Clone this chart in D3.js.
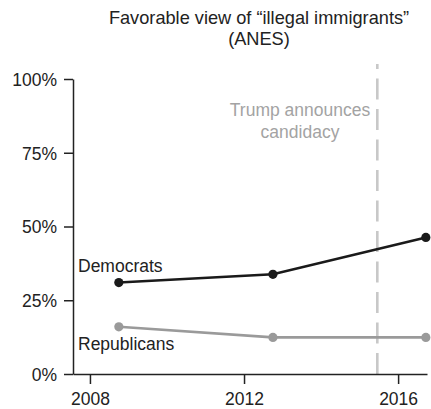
<!DOCTYPE html>
<html>
<head>
<meta charset="utf-8">
<script src="https://cdn.jsdelivr.net/npm/d3@7"></script>
<style>
  html, body { margin: 0; padding: 0; background: #fff; }
  svg { display: block; font-family: "Liberation Sans", Arial, Helvetica, sans-serif; }
</style>
</head>
<body>
<svg id="chart" width="431" height="409"></svg>
<script>
// Survey years (ANES fielded in the fall of each election year)
const surveyYears = [2008.75, 2012.75, 2016.72];
const democrats = [0.31, 0.338, 0.463];
const republicans = [0.16, 0.124, 0.124];
const yTicks = [0, 0.25, 0.5, 0.75, 1];
const xTicks = [2008, 2012, 2016];
const announceYear = 2015.46;
const titleLines = ["Favorable view of \u201cillegal immigrants\u201d", "(ANES)"];
const noteLines = ["Trump announces", "candidacy"];

const svg = d3.select("#chart");
const fontSize = 17.5;

const x = d3.scaleLinear().domain([2007.56, 2016.75]).range([73, 427]);
const y = d3.scaleLinear().domain([0, 1]).range([374, 79]);

// Title
svg.append("text")
  .attr("text-anchor", "middle")
  .attr("font-size", 18.2).attr("fill", "#222")
  .selectAll("tspan").data(titleLines).join("tspan")
  .attr("x", 259).attr("y", (d, i) => 24 + i * 21)
  .text(d => d);

// Candidacy marker
svg.append("line")
  .attr("x1", x(announceYear)).attr("x2", x(announceYear))
  .attr("y1", y(0)).attr("y2", 64)
  .attr("stroke", "#c8c8c8").attr("stroke-width", 2.6)
  .attr("stroke-dasharray", "21,9.5");

svg.append("text")
  .attr("text-anchor", "middle")
  .attr("font-size", fontSize).attr("fill", "#a3a3a3")
  .selectAll("tspan").data(noteLines).join("tspan")
  .attr("x", 300).attr("y", (d, i) => 116 + i * 22)
  .text(d => d);

// Axes
const yAxis = svg.append("g")
  .attr("transform", `translate(${x.range()[0]},0)`)
  .call(d3.axisLeft(y).tickValues(yTicks).tickFormat(d3.format(".0%")).tickSize(9).tickSizeOuter(0).tickPadding(7));
const xAxis = svg.append("g")
  .attr("transform", `translate(0,${y(0)})`)
  .call(d3.axisBottom(x).tickValues(xTicks).tickFormat(d3.format("d")).tickSize(10).tickSizeOuter(0).tickPadding(8));

[yAxis, xAxis].forEach(g => {
  g.select(".domain").attr("stroke", "#222").attr("stroke-width", 1.5);
  g.selectAll(".tick line").attr("stroke", "#222").attr("stroke-width", 1.5);
  g.selectAll(".tick text")
    .attr("font-size", fontSize).attr("fill", "#222")
    .attr("font-family", "Liberation Sans, Arial, Helvetica, sans-serif");
});
yAxis.selectAll(".tick text").attr("dy", "0.36em");
xAxis.selectAll(".tick text").attr("dy", "0.74em");

// Series
const series = [
  { name: "Democrats", values: democrats, color: "#1a1a1a", labelY: 272 },
  { name: "Republicans", values: republicans, color: "#9a9a9a", labelY: 350 }
];

const line = d3.line()
  .x((d, i) => x(surveyYears[i]))
  .y(d => y(d));

series.forEach(s => {
  svg.append("path")
    .datum(s.values)
    .attr("d", line)
    .attr("fill", "none")
    .attr("stroke", s.color)
    .attr("stroke-width", 2.6);

  svg.append("g").selectAll("circle").data(s.values).join("circle")
    .attr("cx", (d, i) => x(surveyYears[i]))
    .attr("cy", d => y(d))
    .attr("r", 4.6)
    .attr("fill", s.color);

  svg.append("text")
    .attr("x", 78).attr("y", s.labelY)
    .attr("font-size", fontSize).attr("fill", "#222")
    .text(s.name);
});
</script>
</body>
</html>
